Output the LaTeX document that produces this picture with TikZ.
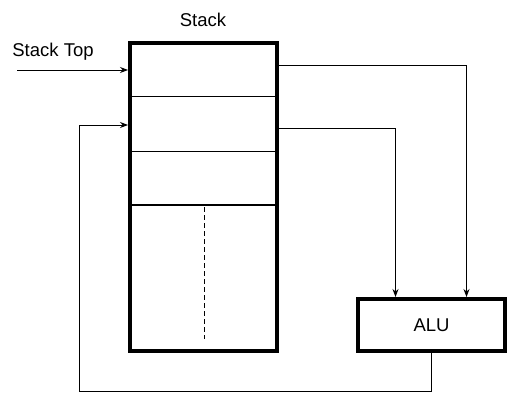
\documentclass[tikz,border=0pt]{standalone}
\usepackage{fontspec}
\setmainfont{Liberation Sans}
\usepackage{tikz}
\usetikzlibrary{arrows.meta,%
                positioning}

\tikzset{
  box/.style={draw, line width=4pt, inner sep=0pt},
  cellline/.style={line width=1.3pt},
  wire/.style={line width=1pt},
  feed/.style={wire, -{Stealth[length=8pt,width=6pt]}}
}

\begin{document}
\begin{tikzpicture}[x=1pt,y=-1pt,font=\fontsize{18.5}{22}\selectfont]
\useasboundingbox (0,0) rectangle (527,412);
%\draw[help lines] (0,0) grid (527,412);
\node[box, minimum width=147pt, minimum height=308pt] (stack) at (203.5,197) {};
\node[box, minimum width=147pt, minimum height=52pt] (alu) at (431.5,325) {ALU};
\node (title) at (203,20) {Stack};
\node (toplbl) at (53,52) {Stack Top};
% cells
\foreach \y in {96.5,151.5,205}
  \draw[cellline] (stack.west |- 0,\y) -- (stack.east |- 0,\y);
\draw[wire, dash pattern=on 5pt off 3pt] (204,207) -- (204,339);
% connectors
\coordinate (topin) at (17,70);
\draw[feed] (topin) -- (topin -| stack.west);
\draw[feed] (stack.east |- 0,66) -| ([xshift=35pt]alu.north);
\draw[feed] (stack.east |- 0,128) -| ([xshift=-36pt]alu.north);
\coordinate (back) at (79,391);
\draw[feed] (alu.south) |- (back) |- (stack.west |- 0,125);
\end{tikzpicture}
\end{document}
